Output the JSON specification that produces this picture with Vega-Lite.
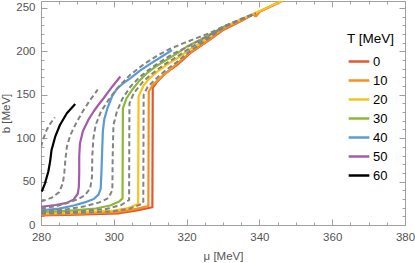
{
  "$schema": "https://vega.github.io/schema/vega-lite/v6.json",
  "width": 364,
  "height": 224,
  "autosize": "none",
  "padding": {"left": 41, "top": 1, "right": 10, "bottom": 38},
  "config": {
    "view": {"stroke": "#a0a0a0", "strokeWidth": 1},
    "font": "Liberation Sans",
    "axis": {"grid": false, "domain": false, "tickColor": "#a0a0a0", "tickWidth": 1, "labelColor": "#555555", "titleColor": "#555555", "labelFontSize": 11.5, "titleFontSize": 11.5, "titleFontWeight": "normal"}
  },
  "datasets": {
    "solid": [
      {"T": 0, "mu": 280, "b": 11}, {"T": 0, "mu": 290, "b": 12}, {"T": 0, "mu": 301.5, "b": 13.5}, {"T": 0, "mu": 306, "b": 16.5}, {"T": 0, "mu": 310.6, "b": 20.4}, {"T": 0, "mu": 310.7, "b": 158}, {"T": 0, "mu": 311.9, "b": 165}, {"T": 0, "mu": 314, "b": 174}, {"T": 0, "mu": 317.4, "b": 184.5}, {"T": 0, "mu": 321, "b": 198}, {"T": 0, "mu": 326.6, "b": 214}, {"T": 0, "mu": 330.2, "b": 225}, {"T": 0, "mu": 335, "b": 235}, {"T": 0, "mu": 338.2, "b": 242.5}, {"T": 0, "mu": 339.1, "b": 240.5}, {"T": 0, "mu": 340, "b": 245.5}, {"T": 0, "mu": 343, "b": 251.5}, {"T": 0, "mu": 346.5, "b": 258.5}, {"T": 0, "mu": 349, "b": 264},
      {"T": 10, "mu": 280, "b": 12}, {"T": 10, "mu": 290, "b": 13}, {"T": 10, "mu": 301, "b": 14.8}, {"T": 10, "mu": 305.5, "b": 18}, {"T": 10, "mu": 309.5, "b": 21.8}, {"T": 10, "mu": 309.6, "b": 153.5}, {"T": 10, "mu": 310.5, "b": 160}, {"T": 10, "mu": 312, "b": 166.5}, {"T": 10, "mu": 314.5, "b": 175.5}, {"T": 10, "mu": 317.4, "b": 186}, {"T": 10, "mu": 321, "b": 199}, {"T": 10, "mu": 326.6, "b": 215}, {"T": 10, "mu": 330.2, "b": 226}, {"T": 10, "mu": 335, "b": 235.5}, {"T": 10, "mu": 338.2, "b": 242.8}, {"T": 10, "mu": 339.1, "b": 240.8}, {"T": 10, "mu": 340, "b": 245.8}, {"T": 10, "mu": 343, "b": 252}, {"T": 10, "mu": 346.5, "b": 259}, {"T": 10, "mu": 349, "b": 264},
      {"T": 20, "mu": 280, "b": 13.5}, {"T": 20, "mu": 290, "b": 14.5}, {"T": 20, "mu": 300, "b": 16.5}, {"T": 20, "mu": 304, "b": 19.5}, {"T": 20, "mu": 306.7, "b": 24.2}, {"T": 20, "mu": 306.8, "b": 147.8}, {"T": 20, "mu": 308.2, "b": 161}, {"T": 20, "mu": 310, "b": 169.5}, {"T": 20, "mu": 311.9, "b": 176.5}, {"T": 20, "mu": 314.5, "b": 184.5}, {"T": 20, "mu": 317.4, "b": 192}, {"T": 20, "mu": 321, "b": 202.5}, {"T": 20, "mu": 326.6, "b": 217.5}, {"T": 20, "mu": 330.2, "b": 228}, {"T": 20, "mu": 335, "b": 237}, {"T": 20, "mu": 338.5, "b": 243.5}, {"T": 20, "mu": 342, "b": 250}, {"T": 20, "mu": 346, "b": 258}, {"T": 20, "mu": 349, "b": 264},
      {"T": 30, "mu": 280, "b": 15}, {"T": 30, "mu": 288, "b": 16.5}, {"T": 30, "mu": 295, "b": 19}, {"T": 30, "mu": 299, "b": 22.5}, {"T": 30, "mu": 301.5, "b": 27}, {"T": 30, "mu": 302.4, "b": 30.7}, {"T": 30, "mu": 302.5, "b": 134.4}, {"T": 30, "mu": 303.5, "b": 146}, {"T": 30, "mu": 305, "b": 155.5}, {"T": 30, "mu": 307, "b": 166}, {"T": 30, "mu": 309.1, "b": 174.8}, {"T": 30, "mu": 311.5, "b": 182.5}, {"T": 30, "mu": 314.6, "b": 190.5}, {"T": 30, "mu": 317.5, "b": 198}, {"T": 30, "mu": 320.1, "b": 205.5}, {"T": 30, "mu": 323.8, "b": 213.5}, {"T": 30, "mu": 326.6, "b": 220}, {"T": 30, "mu": 331, "b": 230},
      {"T": 40, "mu": 280, "b": 17}, {"T": 40, "mu": 285, "b": 18.8}, {"T": 40, "mu": 289, "b": 22.5}, {"T": 40, "mu": 292, "b": 26}, {"T": 40, "mu": 294.5, "b": 30}, {"T": 40, "mu": 295.8, "b": 35}, {"T": 40, "mu": 296.4, "b": 42}, {"T": 40, "mu": 296.6, "b": 60}, {"T": 40, "mu": 296.8, "b": 85}, {"T": 40, "mu": 297, "b": 108}, {"T": 40, "mu": 297.4, "b": 122}, {"T": 40, "mu": 298.3, "b": 135}, {"T": 40, "mu": 299.5, "b": 148}, {"T": 40, "mu": 300.9, "b": 157}, {"T": 40, "mu": 302.5, "b": 163}, {"T": 40, "mu": 304.5, "b": 169}, {"T": 40, "mu": 307.3, "b": 178}, {"T": 40, "mu": 310, "b": 185.5}, {"T": 40, "mu": 313, "b": 193.5}, {"T": 40, "mu": 316, "b": 201.5},
      {"T": 50, "mu": 280, "b": 21}, {"T": 50, "mu": 284, "b": 23}, {"T": 50, "mu": 287.1, "b": 25.5}, {"T": 50, "mu": 289, "b": 29.5}, {"T": 50, "mu": 290.1, "b": 36}, {"T": 50, "mu": 290.4, "b": 44}, {"T": 50, "mu": 290.5, "b": 60}, {"T": 50, "mu": 290.5, "b": 79}, {"T": 50, "mu": 290.7, "b": 94}, {"T": 50, "mu": 291.5, "b": 108}, {"T": 50, "mu": 293, "b": 121}, {"T": 50, "mu": 294.5, "b": 131}, {"T": 50, "mu": 295.8, "b": 138.5}, {"T": 50, "mu": 297.2, "b": 146}, {"T": 50, "mu": 299.5, "b": 159}, {"T": 50, "mu": 301.8, "b": 171},
      {"T": 60, "mu": 280.2, "b": 38.4}, {"T": 60, "mu": 281.1, "b": 48}, {"T": 60, "mu": 282, "b": 61.4}, {"T": 60, "mu": 282.5, "b": 73}, {"T": 60, "mu": 282.9, "b": 86.4}, {"T": 60, "mu": 283.9, "b": 101.7}, {"T": 60, "mu": 285.2, "b": 115.2}, {"T": 60, "mu": 287.1, "b": 128.7}, {"T": 60, "mu": 289.4, "b": 139.4}
    ],
    "dashed": [
      {"T": 15, "mu": 280, "b": 13}, {"T": 15, "mu": 290, "b": 14}, {"T": 15, "mu": 300, "b": 15.8}, {"T": 15, "mu": 304.5, "b": 19}, {"T": 15, "mu": 308.1, "b": 25}, {"T": 15, "mu": 308.2, "b": 150}, {"T": 15, "mu": 309.3, "b": 159}, {"T": 15, "mu": 312, "b": 170}, {"T": 15, "mu": 314.5, "b": 179}, {"T": 15, "mu": 317.4, "b": 188}, {"T": 15, "mu": 321, "b": 200.5}, {"T": 15, "mu": 326.6, "b": 216.5}, {"T": 15, "mu": 330.2, "b": 227.5}, {"T": 15, "mu": 335, "b": 236.5}, {"T": 15, "mu": 339, "b": 243.5},
      {"T": 25, "mu": 280, "b": 14}, {"T": 25, "mu": 290, "b": 15.5}, {"T": 25, "mu": 298, "b": 18.5}, {"T": 25, "mu": 302, "b": 23}, {"T": 25, "mu": 304.2, "b": 28.8}, {"T": 25, "mu": 304.3, "b": 140}, {"T": 25, "mu": 305.5, "b": 152}, {"T": 25, "mu": 308, "b": 165}, {"T": 25, "mu": 310, "b": 172.5}, {"T": 25, "mu": 312, "b": 179}, {"T": 25, "mu": 314.5, "b": 186.5}, {"T": 25, "mu": 317.4, "b": 194}, {"T": 25, "mu": 321, "b": 204}, {"T": 25, "mu": 326.6, "b": 218.5}, {"T": 25, "mu": 330.2, "b": 228.5}, {"T": 25, "mu": 335, "b": 237.5}, {"T": 25, "mu": 339, "b": 244},
      {"T": 35, "mu": 280, "b": 16}, {"T": 35, "mu": 287, "b": 18}, {"T": 35, "mu": 292, "b": 21.5}, {"T": 35, "mu": 296, "b": 26}, {"T": 35, "mu": 298.5, "b": 31}, {"T": 35, "mu": 299.6, "b": 40}, {"T": 35, "mu": 299.7, "b": 80}, {"T": 35, "mu": 299.9, "b": 115}, {"T": 35, "mu": 300.8, "b": 130}, {"T": 35, "mu": 302.3, "b": 145}, {"T": 35, "mu": 304.5, "b": 159}, {"T": 35, "mu": 307, "b": 170}, {"T": 35, "mu": 310, "b": 180}, {"T": 35, "mu": 313, "b": 188.5}, {"T": 35, "mu": 316, "b": 196.5}, {"T": 35, "mu": 321, "b": 207}, {"T": 35, "mu": 326.6, "b": 219.5}, {"T": 35, "mu": 330, "b": 227},
      {"T": 45, "mu": 280, "b": 19}, {"T": 45, "mu": 284, "b": 21.5}, {"T": 45, "mu": 287, "b": 25}, {"T": 45, "mu": 290, "b": 29.5}, {"T": 45, "mu": 292, "b": 34}, {"T": 45, "mu": 293.5, "b": 42}, {"T": 45, "mu": 294, "b": 55}, {"T": 45, "mu": 294.1, "b": 80}, {"T": 45, "mu": 294.4, "b": 100}, {"T": 45, "mu": 295, "b": 115}, {"T": 45, "mu": 296.5, "b": 131}, {"T": 45, "mu": 299, "b": 147}, {"T": 45, "mu": 301.5, "b": 160}, {"T": 45, "mu": 304.5, "b": 173}, {"T": 45, "mu": 308.2, "b": 185}, {"T": 45, "mu": 311.9, "b": 195}, {"T": 45, "mu": 315.5, "b": 203}, {"T": 45, "mu": 319.2, "b": 209.5}, {"T": 45, "mu": 322.9, "b": 215.5}, {"T": 45, "mu": 326.6, "b": 221.5}, {"T": 45, "mu": 330, "b": 228.5}, {"T": 45, "mu": 335, "b": 237}, {"T": 45, "mu": 339, "b": 243.5},
      {"T": 55, "mu": 280, "b": 27}, {"T": 55, "mu": 283, "b": 31.5}, {"T": 55, "mu": 285, "b": 38}, {"T": 55, "mu": 286, "b": 48}, {"T": 55, "mu": 286.4, "b": 60}, {"T": 55, "mu": 286.7, "b": 75}, {"T": 55, "mu": 287.1, "b": 90}, {"T": 55, "mu": 288, "b": 103}, {"T": 55, "mu": 289.5, "b": 116}, {"T": 55, "mu": 291.5, "b": 131}, {"T": 55, "mu": 293.5, "b": 144}, {"T": 55, "mu": 295.6, "b": 156},
      {"T": 65, "mu": 280, "b": 90}, {"T": 65, "mu": 280.7, "b": 100}, {"T": 65, "mu": 281.6, "b": 110}, {"T": 65, "mu": 282.6, "b": 117}, {"T": 65, "mu": 283.8, "b": 124}
    ]
  },
  "layer": [
    {
      "data": {"name": "solid"},
      "mark": {"type": "line", "clip": true, "strokeWidth": 2.2, "strokeJoin": "round"},
      "encoding": {
        "x": {"field": "mu", "type": "quantitative", "scale": {"domain": [280, 380], "nice": false},
          "axis": {"orient": "bottom", "title": "μ [MeV]", "values": [280,285,290,295,300,305,310,315,320,325,330,335,340,345,350,355,360,365,370,375,380],
            "labelExpr": "datum.value % 20 === 0 ? datum.label : ''",
            "tickSize": {"condition": {"test": "datum.value % 20 === 0", "value": -6}, "value": -3},
            "labelPadding": 12, "labelFlush": false, "titlePadding": 8}},
        "y": {"field": "b", "type": "quantitative", "scale": {"domain": [0, 258], "nice": false},
          "axis": {"orient": "left", "title": "b [MeV]", "values": [0,10,20,30,40,50,60,70,80,90,100,110,120,130,140,150,160,170,180,190,200,210,220,230,240,250],
            "labelExpr": "datum.value % 50 === 0 ? datum.label : ''",
            "tickSize": {"condition": {"test": "datum.value % 50 === 0", "value": -6}, "value": -3},
            "labelPadding": 12, "labelFlush": false, "titlePadding": 4}},
        "color": {"field": "T", "type": "ordinal",
          "scale": {"domain": [0, 10, 20, 30, 40, 50, 60], "range": ["#E4572E", "#F7901E", "#F8C31A", "#8DB836", "#5A9BD5", "#A55AAE", "#000000"]},
          "legend": {"title": "T [MeV]", "orient": "none", "legendX": 306, "legendY": 31, "titleFontSize": 13.5, "titleFontWeight": "normal", "titleColor": "#000000", "labelFontSize": 13, "labelColor": "#000000", "symbolType": "stroke", "symbolSize": 428, "symbolStrokeWidth": 2.5, "rowPadding": 0, "labelOffset": 2, "titlePadding": 4}},
        "order": {"value": null}
      }
    },
    {
      "data": {"name": "dashed"},
      "mark": {"type": "line", "clip": true, "strokeWidth": 2, "color": "#838383", "strokeDash": [5, 3]},
      "encoding": {
        "x": {"field": "mu", "type": "quantitative",
          "axis": {"orient": "top", "title": null, "labels": false, "values": [280,285,290,295,300,305,310,315,320,325,330,335,340,345,350,355,360,365,370,375,380],
            "tickSize": {"condition": {"test": "datum.value % 20 === 0", "value": -6}, "value": -3}}},
        "y": {"field": "b", "type": "quantitative",
          "axis": {"orient": "right", "title": null, "labels": false, "values": [0,10,20,30,40,50,60,70,80,90,100,110,120,130,140,150,160,170,180,190,200,210,220,230,240,250],
            "tickSize": {"condition": {"test": "datum.value % 50 === 0", "value": -6}, "value": -3}}},
        "detail": {"field": "T", "type": "nominal"},
        "order": {"value": null}
      }
    }
  ],
  "resolve": {"axis": {"x": "independent", "y": "independent"}}
}
